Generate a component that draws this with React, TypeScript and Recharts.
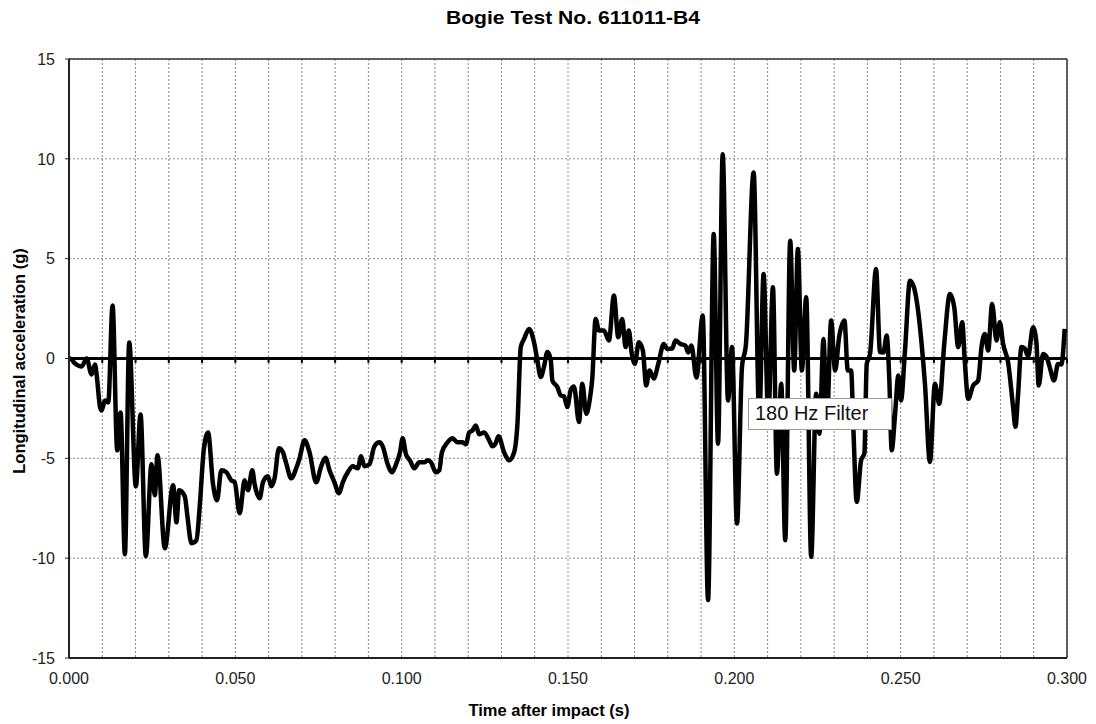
import React from 'react';
import { LineChart, Line, XAxis, YAxis, CartesianGrid, ReferenceLine } from 'recharts';

// time after impact (s)
const times = [
  0.0, 0.0003, 0.0018, 0.0038, 0.0053, 0.0068, 0.0078, 0.0083, 0.0093, 0.0098,
  0.0108, 0.0118, 0.0131, 0.0145, 0.0155, 0.0168, 0.0181, 0.0201, 0.0215, 0.0231,
  0.0248, 0.0258, 0.0266, 0.0288, 0.0313, 0.0323, 0.0331, 0.0348, 0.0356, 0.0368,
  0.0383, 0.0393, 0.0405, 0.0418, 0.0433, 0.0445, 0.0458, 0.0473, 0.0488, 0.0498,
  0.0513, 0.0528, 0.0538, 0.0551, 0.0558, 0.0573, 0.0583, 0.0598, 0.0608, 0.0618,
  0.0631, 0.0643, 0.0653, 0.0668, 0.0683, 0.0693, 0.0708, 0.0723, 0.0743, 0.0758,
  0.0771, 0.0783, 0.0798, 0.0811, 0.0823, 0.0838, 0.0853, 0.0868, 0.0878, 0.0888,
  0.0903, 0.0918, 0.0933, 0.0943, 0.0958, 0.0971, 0.0983, 0.0995, 0.1003, 0.1013,
  0.1025, 0.1038, 0.1053, 0.1068, 0.1078, 0.1088, 0.1103, 0.1113, 0.1121, 0.1138,
  0.1153, 0.1168, 0.1183, 0.1193, 0.1203, 0.1213, 0.1223, 0.1233, 0.1248, 0.1263,
  0.1273, 0.1281, 0.1291, 0.1308, 0.1323, 0.1338, 0.1348, 0.1358, 0.1368, 0.1383,
  0.1398, 0.1408, 0.1418, 0.1428, 0.1438, 0.1448, 0.1453, 0.1468, 0.1478, 0.1488,
  0.1498, 0.1508, 0.1518, 0.1533, 0.1543, 0.1555, 0.1565, 0.1573, 0.1583, 0.1593,
  0.1608, 0.1623, 0.1638, 0.1651, 0.1663, 0.1673, 0.1683, 0.1691, 0.1701, 0.1713,
  0.1725, 0.1735, 0.1745, 0.1758, 0.1771, 0.1788, 0.1798, 0.1813, 0.1823, 0.1838,
  0.1853, 0.1861, 0.1871, 0.1886, 0.1905, 0.1921, 0.1938, 0.1951, 0.1965, 0.1981,
  0.1993, 0.2008, 0.2023, 0.2035, 0.2058, 0.2075, 0.2088, 0.2102, 0.2116, 0.2128,
  0.2141, 0.2153, 0.2168, 0.218, 0.2191, 0.2203, 0.2216, 0.2231, 0.2246, 0.2256,
  0.2268, 0.2278, 0.2291, 0.2303, 0.2315, 0.2331, 0.2341, 0.2351, 0.2358, 0.2368,
  0.2381, 0.2391, 0.2398, 0.2408, 0.2426, 0.2438, 0.2448, 0.2458, 0.2466, 0.2473,
  0.2483, 0.2493, 0.2501, 0.2513, 0.2528, 0.2541, 0.2551, 0.2563, 0.2573, 0.2588,
  0.2603, 0.2616, 0.2631, 0.2648, 0.2661, 0.2673, 0.2685, 0.2693, 0.2703, 0.2718,
  0.2733, 0.2743, 0.2753, 0.2763, 0.2775, 0.2788, 0.2798, 0.2808, 0.2823, 0.2838,
  0.2845, 0.2853, 0.2863, 0.2873, 0.2883, 0.2898, 0.2908, 0.2915, 0.2928, 0.2938,
  0.2948, 0.2961, 0.2973, 0.2983, 0.2993,
];

// longitudinal acceleration (g), 180 Hz filter
const accel = [
  0, 0, -0.25, -0.4, 0, -0.8, -0.3, -0.8, -2.4, -2.6,
  -2.1, -2.2, 2.65, -4.6, -2.7, -9.8, 0.8, -6.4, -2.8, -9.9,
  -5.3, -6.85, -4.85, -9.5, -6.35, -8.2, -6.6, -6.9, -7.9, -9.25,
  -9.1, -7.4, -4.6, -3.7, -6.3, -7.1, -5.6, -5.7, -6.1, -6.2,
  -7.75, -6.1, -6.6, -5.6, -6.3, -7.0, -6.2, -5.9, -6.4, -6.0,
  -4.5, -4.7, -5.25, -6.0, -5.5, -5.0, -4.1, -4.7, -6.2, -5.4,
  -4.97, -5.6, -6.2, -6.75, -6.2, -5.7, -5.4, -5.5, -4.9, -5.4,
  -5.3, -4.4, -4.2, -4.4, -5.3, -5.7, -5.3, -4.7, -4.0, -4.8,
  -5.1, -5.5, -5.2, -5.2, -5.1, -5.2, -5.7, -5.6, -4.7, -4.2,
  -4.0, -4.2, -4.2, -4.3, -3.7, -3.6, -3.35, -3.8, -3.7, -4.1,
  -4.4, -4.3, -3.9, -4.7, -5.1, -4.7, -3.27, 0.57, 0.98, 1.48,
  0.8, -0.1, -0.93, -0.4, 0.32, -0.05, -1.1, -1.43, -1.85, -1.9,
  -2.43, -1.6, -1.4, -3.18, -1.27, -2.77, -2.1, -1.0, 1.98, 1.4,
  1.4, 0.9, 3.15, 1.07, 1.98, 0.57, 1.4, 0.32, -0.27, 0.82,
  0.4, -1.35, -0.6, -1.0, -0.3, 0.73, 0.48, 0.5, 0.9, 0.73,
  0.65, 0.3, 0.65, -0.95, 2.15, -12.1, 6.23, -4.27, 10.23, -2.1,
  0.57, -8.27, -0.43, 0.73, 9.32, -3.0, 4.23, -3.0, 3.57, -5.77,
  -1.27, -9.1, 5.9, -0.6, 5.48, -0.6, 3.07, -9.93, -1.77, -3.77,
  0.98, -3.3, 1.9, -0.6, 1.07, 1.9, -0.6, -0.6, -3.6, -7.18,
  -5.1, -4.75, -0.27, 0.23, 4.48, 0.32, 0.3, 1.15, -1.1, -4.6,
  -2.85, -0.85, -2.1, 0.4, 3.9, 3.5, 2.57, 0.73, -1.27, -5.18,
  -1.27, -2.27, 0.73, 3.23, 2.57, 0.57, 1.82, -0.2, -2.02, -1.35,
  -1.1, 0.57, 1.23, 0.4, 2.73, 0.9, 1.82, 0.73, -0.2, -2.43,
  -3.43, -1.77, 0.57, 0.5, 0.1, 1.57, 0.8, -1.35, 0.23, 0.1,
  -0.43, -1.1, -0.27, -0.3, 1.48,
];

const yTicks = [-15, -10, -5, 0, 5, 10, 15];
const xTickLabels = ['0.000', '0.050', '0.100', '0.150', '0.200', '0.250', '0.300'];
// vertical grid every 0.01 s
const xGridTicks = Array.from({ length: 31 }, (_, i) => Number((i * 0.01).toFixed(2)));

const data = times.map((t, i) => ({ t, a: accel[i] }));

const FONT = '"Liberation Sans", Arial, sans-serif';

function formatX(v: number) {
  const k = Math.round(v * 100);
  return k % 5 === 0 ? xTickLabels[k / 5] : '';
}

export default function App() {
  return (
    <div style={{ position: 'relative', width: 1080, height: 716, fontFamily: FONT, background: '#fff' }}>
      <div
        style={{
          position: 'absolute',
          left: 564.5,
          top: 0,
          fontSize: 19,
          lineHeight: '20px',
          fontWeight: 'bold',
          whiteSpace: 'nowrap',
          transform: 'translateX(-50%) scaleX(1.11)',
          color: '#000',
        }}
      >
        Bogie Test No. 611011-B4
      </div>

      <LineChart width={1080} height={716} data={data} margin={{ top: 51, right: 21, bottom: 36, left: 11 }}>
        <CartesianGrid stroke="#888" strokeDasharray="2 2" strokeWidth={1} />
        <XAxis
          dataKey="t"
          type="number"
          domain={[0, 0.3]}
          ticks={xGridTicks}
          interval={0}
          tickFormatter={formatX}
          tickLine={false}
          tickSize={0}
          tickMargin={15}
          height={30}
          axisLine={{ stroke: '#222', strokeWidth: 2 }}
          tick={{ fontSize: 16, fill: '#222', fontFamily: FONT }}
        />
        <YAxis
          type="number"
          domain={[-15, 15]}
          ticks={yTicks}
          interval={0}
          width={50}
          tickSize={4}
          tickMargin={10}
          tickLine={{ stroke: '#222' }}
          axisLine={{ stroke: '#222', strokeWidth: 2 }}
          tick={{ fontSize: 16, fill: '#222', fontFamily: FONT }}
        />
        <ReferenceLine y={15} stroke="#333" strokeWidth={1.5} />
        <ReferenceLine x={0.3} stroke="#333" strokeWidth={1.5} />
        <ReferenceLine y={0} stroke="#000" strokeWidth={3} />
        {xGridTicks.map((t) => (
          <ReferenceLine
            key={t}
            segment={[
              { x: t, y: 0 },
              { x: t, y: -0.22 },
            ]}
            stroke="#000"
            strokeWidth={2}
          />
        ))}
        <Line
          type="monotone"
          dataKey="a"
          stroke="#000"
          strokeWidth={4.5}
          strokeLinejoin="round"
          dot={false}
          activeDot={false}
          isAnimationActive={false}
        />
      </LineChart>

      <div
        style={{
          position: 'absolute',
          left: 11,
          top: 353,
          fontSize: 16.5,
          lineHeight: '18px',
          fontWeight: 'bold',
          whiteSpace: 'nowrap',
          transform: 'translate(-50%, -50%) rotate(-90deg)',
          color: '#000',
        }}
      >
        Longitudinal acceleration (g)
      </div>

      <div
        style={{
          position: 'absolute',
          left: 541,
          top: 693,
          fontSize: 16.5,
          lineHeight: '18px',
          fontWeight: 'bold',
          whiteSpace: 'nowrap',
          transform: 'translateX(-50%)',
          color: '#000',
        }}
      >
        Time after impact (s)
      </div>

      <div
        style={{
          position: 'absolute',
          left: 740,
          top: 390,
          width: 144,
          height: 32,
          boxSizing: 'border-box',
          border: '1px solid #999',
          background: '#fff',
          paddingLeft: 6,
          fontSize: 20,
          lineHeight: '28px',
          whiteSpace: 'nowrap',
          color: '#111',
        }}
      >
        180 Hz Filter
      </div>
    </div>
  );
}
